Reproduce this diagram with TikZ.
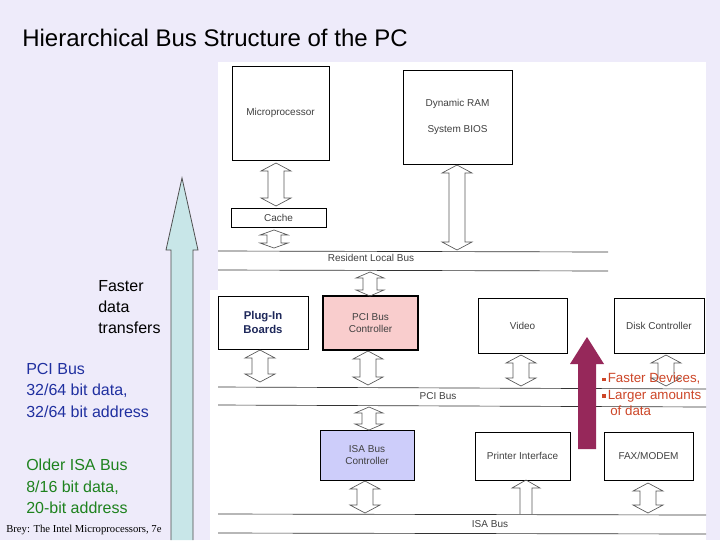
\documentclass[tikz,border=0pt]{standalone}
\usepackage{fontspec}
\setmainfont{Liberation Sans}
\newfontfamily\serifb{Liberation Serif}
\definecolor{bg}{RGB}{238,235,250}
\definecolor{pinkc}{RGB}{249,205,205}
\definecolor{bluec}{RGB}{205,205,250}
\definecolor{navy}{RGB}{30,40,90}
\definecolor{txtblue}{RGB}{32,48,160}
\definecolor{txtgreen}{RGB}{30,130,30}
\definecolor{maroon}{RGB}{150,40,90}
\definecolor{orred}{RGB}{205,70,40}
\definecolor{lblue}{RGB}{200,230,232}
\newcommand{\hdarrow}[5]{% x, ytop, ybot, halfshaft, headlen
  \draw[gray!70!black,line width=0.5pt]
   (#1-#4,#2+#5)--(#1-#4-7,#2+#5)--(#1,#2)--(#1+#4+7,#2+#5)--(#1+#4,#2+#5)
   --(#1+#4,#3-#5)--(#1+#4+7,#3-#5)--(#1,#3)--(#1-#4-7,#3-#5)--(#1-#4,#3-#5)--cycle;}
\newcommand{\sqb}{\raisebox{0.25ex}{\rule{2.5pt}{2.5pt}}\,}
\begin{document}
\begin{tikzpicture}[x=0.75pt,y=-0.75pt,
  box/.style={draw=black,line width=0.5pt,fill=white,inner sep=0pt,align=center,font=\fontsize{7.5}{9}\selectfont\color{black!75}},
  bus/.style={draw=black!80,line width=0.5pt},
  buslbl/.style={font=\fontsize{7.5}{9}\selectfont\color{black!75}},
  side/.style={anchor=north west,align=left,font=\fontsize{12}{16}\selectfont,inner sep=0pt}]
\useasboundingbox (0,0) rectangle (720,540);
\fill[bg] (0,0) rectangle (720,540);
\fill[white] (218,62) rectangle (706,290);
\fill[white] (210,290) rectangle (706,540);
\node[anchor=west,inner sep=0pt,font=\fontsize{18}{22}\selectfont] (title) at (22,38) {Hierarchical Bus Structure of the PC};
\node[box,minimum width=72.75pt,minimum height=70.5pt] (mp) at (280.5,113) {Microprocessor};
\node[box,minimum width=81.75pt,minimum height=70.5pt,align=center] (ram) at (457.5,117) {Dynamic RAM\\[10pt]System BIOS};
\node[box,minimum width=71.25pt,minimum height=14.25pt] (cache) at (278.5,217.5) {Cache};
\node[box,minimum width=67.5pt,minimum height=39.75pt,font=\fontsize{8.5}{10}\bfseries\selectfont\color{navy}] (plug) at (263,322.5) {Plug-In\\Boards};
\node[box,fill=pinkc,line width=0.9pt,minimum width=71.25pt,minimum height=40.5pt] (pcic) at (370.5,323) {PCI Bus\\Controller};
\node[box,minimum width=66.75pt,minimum height=41.25pt] (video) at (522.5,325.5) {Video};
\node[box,minimum width=67.5pt,minimum height=41.25pt] (disk) at (659,325.5) {Disk Controller};
\node[box,fill=bluec,minimum width=70.5pt,minimum height=37.5pt] (isac) at (367,455) {ISA Bus\\Controller};
\node[box,minimum width=71.25pt,minimum height=36pt] (prn) at (522.5,456) {Printer Interface};
\node[box,minimum width=66.75pt,minimum height=36pt] (fax) at (648.5,456) {FAX/MODEM};
\draw[bus] (218,251)--(608,252);
\draw[bus] (218,270)--(608,271);
\node[buslbl] (rlb) at (371,258) {Resident Local Bus};
\draw[bus] (218,387)--(706,389);
\draw[bus] (218,405)--(706,407);
\node[buslbl] (pcib) at (438,396) {PCI Bus};
\draw[bus] (218,514)--(706,515);
\draw[bus] (218,533)--(706,534);
\node[buslbl] (isab) at (490,524) {ISA Bus};
\hdarrow{276}{163}{206}{8}{8}
\hdarrow{274}{230}{248}{7}{5}
\hdarrow{457}{165}{250}{8}{8}
\hdarrow{370}{272}{296}{7}{6}
\hdarrow{260}{350}{382}{8}{8}
\hdarrow{368}{351}{385}{8}{8}
\hdarrow{521}{355}{386}{8}{8}
\hdarrow{666}{355}{386}{8}{8}
\hdarrow{369}{407}{430}{7}{6}
\hdarrow{365}{481}{513}{8}{8}
\draw[gray!70!black,line width=0.5pt] (520,514)--(520,488)--(512,488)--(526,480)--(540,488)--(532,488)--(532,514);
\hdarrow{648}{483}{513}{8}{8}
\fill[maroon] (578,449)--(578,364)--(570,364)--(587,337)--(604,364)--(596,364)--(596,449)--cycle;
\node[anchor=north west,inner sep=0pt,align=left,text=orred,font=\fontsize{10}{12.3}\selectfont] (fd) at (602,373) {\sqb Faster Devices,\\\sqb Larger amounts\\\hspace*{6pt}of data};
\draw[fill=lblue,draw=black!70,line width=0.6pt] (171,540)--(171,250)--(166,250)--(182,178)--(198,250)--(193,250)--(193,540);
\node[side] (fdt) at (98,280) {Faster\\data\\transfers};
\node[side,text=txtblue] (pcit) at (26,363) {PCI Bus\\32/64 bit data,\\32/64 bit address};
\node[side,text=txtgreen] (isat) at (26,459) {Older ISA Bus\\8/16 bit data,\\20-bit address};
\node[anchor=west,inner sep=0pt,font=\serifb\fontsize{8}{9}\selectfont] (brey) at (6,530) {Brey: The Intel Microprocessors, 7e};
\end{tikzpicture}
\end{document}
